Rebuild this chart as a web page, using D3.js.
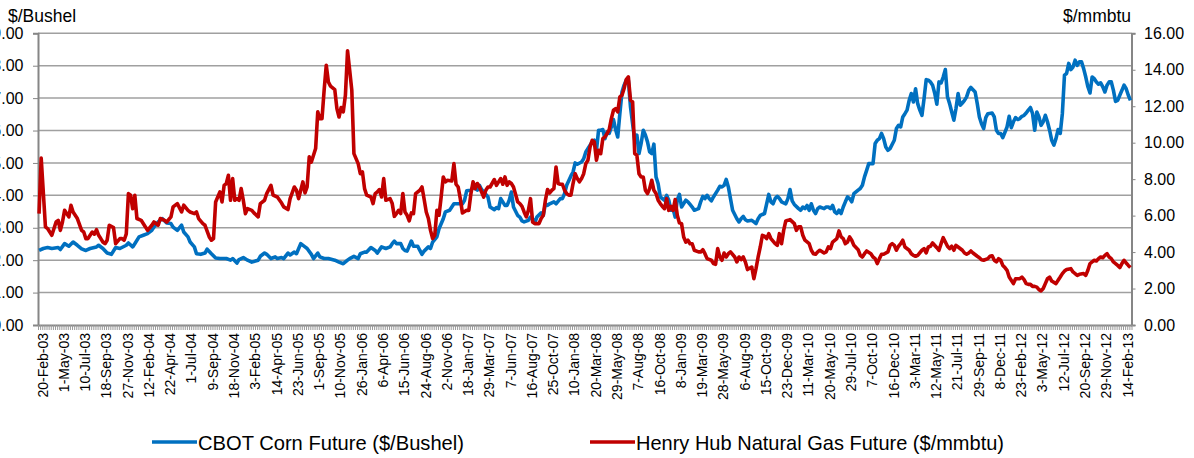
<!DOCTYPE html>
<html><head><meta charset="utf-8">
<script src="https://cdn.jsdelivr.net/npm/d3@7"></script>
<style>
body{margin:0;background:#fff;}
svg{display:block;font-family:"Liberation Sans",Arial,sans-serif;}
</style></head><body>
<svg id="chart" width="1194" height="458"></svg>
<script>
// Weekly categories (index 0 = 20-Feb-03), a label every 10th week
const categoryCount = 514;
const tickLabels = ["20-Feb-03","1-May-03","10-Jul-03","18-Sep-03","27-Nov-03","12-Feb-04","22-Apr-04","1-Jul-04","9-Sep-04","18-Nov-04","3-Feb-05","14-Apr-05","23-Jun-05","1-Sep-05","10-Nov-05","26-Jan-06","6-Apr-06","15-Jun-06","24-Aug-06","2-Nov-06","18-Jan-07","29-Mar-07","7-Jun-07","16-Aug-07","25-Oct-07","10-Jan-08","20-Mar-08","29-May-08","7-Aug-08","16-Oct-08","8-Jan-09","19-Mar-09","28-May-09","6-Aug-09","15-Oct-09","23-Dec-09","11-Mar-10","20-May-10","29-Jul-10","7-Oct-10","16-Dec-10","3-Mar-11","12-May-11","21-Jul-11","29-Sep-11","8-Dec-11","23-Feb-12","3-May-12","12-Jul-12","20-Sep-12","29-Nov-12","14-Feb-13"];
const leftTicks = [0,1,2,3,4,5,6,7,8,9];
const rightTicks = [0,2,4,6,8,10,12,14,16];
const seriesNames = ["CBOT Corn Future ($/Bushel)", "Henry Hub Natural Gas Future ($/mmbtu)"];

// [week index, $/bushel]
const cornData = [[0,2.30],[2,2.36],[4,2.39],[6,2.36],[9,2.39],[10,2.33],[12,2.51],[14,2.43],[16,2.56],[18,2.46],[20,2.35],[22,2.30],[24,2.36],[27,2.41],[28,2.46],[30,2.36],[32,2.22],[34,2.18],[36,2.39],[38,2.36],[41,2.46],[42,2.53],[44,2.41],[45,2.51],[47,2.72],[49,2.77],[51,2.82],[53,2.92],[54,3.02],[56,3.18],[58,3.28],[60,3.15],[62,3.13],[63,3.02],[65,2.92],[67,3.08],[68,2.87],[70,2.72],[71,2.56],[73,2.41],[74,2.20],[76,2.18],[78,2.22],[79,2.34],[81,2.20],[83,2.07],[85,2.05],
[86,2.05],[88,2.05],[90,2.00],[91,2.05],[93,1.91],[94,2.02],[96,2.08],[98,2.00],[100,1.94],[103,2.00],[104,2.12],[106,2.22],[107,2.18],[109,2.05],[111,2.10],[112,2.05],[114,2.08],[115,2.05],[117,2.22],[118,2.16],[120,2.25],[121,2.20],[123,2.51],[125,2.41],[126,2.36],[128,2.18],[129,2.05],[131,2.22],[132,2.10],[134,2.05],[136,2.05],[139,2.00],[141,1.94],[143,1.89],[145,2.00],[146,2.05],[148,2.12],[150,2.05],[151,2.20],[153,2.25],[154,2.25],[156,2.39],[158,2.30],[159,2.22],[161,2.41],[163,2.36],[165,2.41],[166,2.51],
[167,2.59],[168,2.51],[170,2.51],[171,2.36],[172,2.30],[173,2.28],[175,2.59],[176,2.43],[178,2.43],[179,2.30],[180,2.18],[181,2.28],[183,2.41],[184,2.36],[185,2.56],[187,2.72],[188,2.97],[190,3.28],[191,3.49],[193,3.54],[194,3.64],[195,3.74],[197,3.74],[199,3.74],[200,3.85],[201,4.14],[203,4.16],[204,4.26],[206,4.16],[207,4.31],[208,4.18],[210,4.03],[211,3.95],[212,3.64],[214,3.56],[215,3.62],[216,3.59],[217,3.90],[219,3.69],[220,3.69],[221,3.85],[222,4.10],[223,3.64],[225,3.38],[226,3.33],[227,3.21],[228,3.18],[230,3.23],[231,3.33],[232,3.28],[233,3.15],[234,3.33],[236,3.46],[237,3.38],[238,3.74],[239,3.69],[240,3.74],[242,3.80],[243,3.74],[245,3.90],[246,3.90],[247,4.05],[248,4.31],[250,4.60],
[251,4.72],[252,5.00],[253,4.96],[255,5.03],[256,5.13],[257,5.34],[259,5.55],[260,5.65],[261,5.70],[262,5.39],[263,6.01],[264,6.01],[265,6.03],[266,5.75],[267,5.96],[268,5.91],[269,6.11],[270,6.34],[271,6.03],[272,5.80],[273,6.52],[274,7.19],[275,7.40],[276,7.55],[277,7.55],[278,6.73],[279,6.21],[280,5.70],[281,5.86],[282,5.29],[283,5.60],[284,6.01],[285,5.86],[286,5.65],[287,5.34],[288,5.29],[289,5.58],[290,4.57],[291,4.36],[292,3.95],[294,3.85],[295,4.00],[296,3.85],[297,3.54],[298,3.59],[299,3.33],[300,3.87],[301,4.03],[302,3.64],[304,3.85],[305,3.80],[306,3.72],[307,3.64],[308,3.54],[310,3.59],[311,3.80],[312,3.97],[313,3.90],[314,4.00],[315,3.90],[316,3.83],[317,3.95],[319,4.16],[320,4.28],[321,4.26],[322,4.31],[323,4.49],[324,4.26],[325,3.90],[326,3.54],[328,3.28],[329,3.18],[330,3.28],[331,3.35],[332,3.25],[333,3.21],[335,3.23],[336,3.18],[337,3.13],[338,3.28],[339,3.38],
[341,3.44],[342,3.74],[343,4.03],[344,3.80],[345,3.74],[346,3.90],[347,3.97],[348,3.90],[349,3.80],[351,3.74],[352,3.90],[353,4.18],[354,3.83],[355,3.72],[357,3.59],[358,3.54],[359,3.64],[360,3.59],[361,3.69],[362,3.54],[363,3.74],[364,3.54],[365,3.44],[366,3.59],[367,3.64],[369,3.59],[370,3.64],[371,3.64],[372,3.59],[373,3.69],[374,3.49],[375,3.44],[376,3.54],[377,3.44],[378,3.64],[379,3.80],[380,3.95],[381,3.90],[382,3.80],[383,4.05],[385,4.16],[386,4.21],[387,4.31],[388,4.57],[389,4.77],[390,4.98],[391,4.98],[392,4.98],[393,5.60],[394,5.70],[395,5.75],[396,5.91],[397,5.75],[398,5.49],[399,5.39],[400,5.44],[402,5.70],[403,6.06],[404,6.16],[405,6.11],[406,6.42],[407,6.52],[408,6.63],[409,6.93],[410,7.14],[411,6.88],[412,7.29],[413,6.83],[414,6.63],[415,6.47],[416,6.99],[417,7.57],[418,7.55],
[419,7.50],[420,7.40],[421,7.15],[422,6.81],[423,7.50],[424,7.47],[425,7.65],[426,7.88],[427,7.04],[428,6.83],[429,6.57],[430,6.32],[431,6.68],[432,7.14],[433,6.78],[434,6.85],[435,6.93],[436,7.04],[437,7.24],[438,7.33],[440,7.19],[441,6.83],[442,6.42],[443,6.21],[444,6.06],[445,6.40],[446,6.52],[448,6.54],[449,6.42],[450,6.01],[451,5.91],[452,5.91],[453,5.78],[455,6.11],[456,6.44],[457,6.09],[458,6.27],[459,6.40],[460,6.34],[461,6.37],[462,6.44],[463,6.47],[464,6.54],[465,6.63],[466,6.71],[467,6.52],[468,6.01],[469,6.57],[470,6.42],[471,6.16],[472,6.27],[473,6.47],[474,6.27],[475,6.01],[476,5.70],[477,5.55],[478,5.75],[479,6.03],[480,5.91],[481,6.52],[482,7.71],[483,7.76],[484,8.07],[485,7.88],[486,7.96],[487,8.17],[488,8.01],[489,8.12],[490,8.12],[491,7.91],[492,7.65],[493,7.35],[494,7.16],[495,7.65],[496,7.60],[497,7.50],[498,7.43],[499,7.47],[500,7.35],[501,7.19],[502,7.40],[503,7.50],[504,7.50],[505,7.24],[506,6.90],[507,6.93],[508,7.09],[509,7.24],[510,7.40],[511,7.29],[512,7.09],[513,6.93]];

// [week index, $/mmbtu]
const gasData = [[0,6.11],[1,9.16],[3,5.38],[4,5.29],[6,4.92],[8,5.65],[9,5.74],[10,5.19],[11,5.65],[12,6.29],[14,5.93],[15,6.57],[16,6.20],[18,5.84],[20,5.19],[21,5.10],[22,4.74],[23,4.74],[25,5.10],[26,4.98],[27,5.23],[28,4.92],[29,4.74],[30,4.55],[31,4.46],[32,4.65],[33,5.47],[35,5.34],[36,4.46],[38,4.74],[39,4.74],[40,4.65],[41,5.00],[42,7.21],[43,7.12],[44,6.38],[45,7.12],[46,5.84],[48,5.74],[50,5.38],[51,5.19],[53,5.47],[54,5.65],[56,5.47],[57,5.84],[59,5.74],[60,5.65],[62,5.93],[63,6.48],[65,6.66],[67,6.20],[68,6.57],[70,6.29],[71,6.20],[73,6.11],[74,6.20],[75,5.84],[77,5.56],[78,5.47],[80,4.83],[81,4.65],[82,4.74],[83,6.75],[85,7.30],
[86,6.75],[87,7.66],[88,7.76],[89,8.21],[90,6.84],[91,8.03],[92,6.84],[93,6.93],[94,6.84],[95,7.48],[96,6.84],[97,6.11],[98,6.38],[100,6.29],[101,6.15],[103,5.93],[104,6.66],[106,6.84],[107,7.21],[109,7.66],[110,7.12],[112,7.02],[114,6.69],[115,6.48],[117,6.33],[118,6.93],[120,7.57],[121,7.39],[122,6.93],[123,7.39],[124,7.85],[125,7.24],[126,7.57],[127,9.22],[128,8.94],[130,9.68],[131,11.69],[132,11.32],[133,11.32],[134,12.88],[135,14.25],[136,13.33],[137,13.10],[139,12.91],[140,11.87],[141,11.41],[142,11.93],[143,11.69],[144,12.60],[145,15.04],[146,13.97],[147,12.88],[148,9.40],[150,8.85],[151,8.30],[152,8.40],[153,7.48],[154,7.12],[156,7.02],[157,6.66],[158,7.21],[159,7.30],[160,7.43],[161,7.02],[162,8.03],[163,6.84],[165,6.93],[166,6.66],[167,5.96],
[168,6.11],[169,6.29],[170,6.11],[171,7.21],[172,6.20],[173,6.02],[174,5.71],[175,6.15],[176,6.11],[177,7.21],[179,7.39],[180,7.57],[181,6.90],[182,6.20],[183,5.84],[184,5.19],[185,4.74],[186,4.92],[187,6.29],[188,6.02],[189,7.02],[190,8.12],[191,7.85],[192,7.94],[194,7.90],[195,8.85],[196,7.72],[197,7.57],[198,6.93],[199,6.15],[201,6.29],[202,6.29],[203,7.21],[204,7.85],[205,7.48],[206,7.76],[207,7.57],[208,7.30],[209,7.02],[210,7.39],[211,7.57],[212,7.57],[214,7.98],[215,7.66],[216,7.85],[217,8.03],[218,7.72],[219,8.12],[220,7.66],[221,7.85],[222,7.76],[223,7.57],[225,6.75],[226,6.66],[227,6.51],[228,6.20],[229,5.93],[230,6.29],[231,6.93],[232,5.65],[233,5.56],[235,5.56],[236,5.84],[237,6.02],[238,6.84],[239,7.43],[240,7.24],[241,7.39],[242,7.48],[243,8.67],[244,7.76],[245,7.72],[246,7.72],[247,7.39],[248,7.21],[249,7.12],
[250,7.12],[251,7.76],[252,8.30],[253,8.03],[254,7.85],[255,8.03],[256,8.30],[257,8.85],[258,9.04],[259,9.77],[260,10.13],[261,10.04],[262,9.04],[263,9.58],[264,9.40],[265,10.22],[266,10.32],[267,10.50],[268,10.72],[269,11.32],[270,11.78],[271,11.87],[272,11.69],[273,12.51],[274,12.60],[275,12.97],[276,13.46],[277,13.61],[278,12.33],[279,12.24],[280,9.40],[281,9.31],[282,8.30],[283,8.12],[284,8.12],[285,7.39],[286,7.21],[287,7.48],[288,7.94],[289,7.39],[290,7.21],[291,6.84],[292,6.66],[293,6.50],[294,6.38],[295,6.93],[296,6.29],[297,6.51],[298,6.29],[299,6.88],[300,6.02],[301,5.60],[302,5.56],[303,4.83],[304,4.55],[305,4.65],[306,4.46],[307,4.46],[308,4.10],[310,4.01],[311,4.01],[312,4.13],[313,3.91],[314,3.64],[316,3.55],[317,3.37],[318,3.33],[319,4.19],[320,3.73],[321,3.55],[322,3.95],[323,3.73],[324,3.91],[325,4.01],[327,3.73],[328,3.46],[329,3.73],[330,3.59],[331,3.73],[332,3.46],[333,3.04],[335,3.18],[336,2.54],[337,3.09],
[338,3.73],[339,4.28],[340,4.92],[341,4.87],[342,4.74],[343,5.01],[344,4.74],[346,4.46],[347,4.37],[348,5.01],[349,4.46],[350,5.19],[351,5.71],[352,5.74],[353,5.78],[355,5.56],[356,5.19],[357,5.38],[358,5.38],[359,4.92],[360,4.65],[362,4.46],[363,4.10],[364,3.91],[365,3.88],[366,4.01],[367,4.10],[369,3.95],[370,4.01],[371,4.28],[372,4.19],[373,4.55],[375,4.74],[376,5.16],[377,4.83],[378,4.74],[379,4.46],[380,4.55],[381,4.83],[382,4.65],[383,4.37],[385,4.13],[386,3.82],[387,3.73],[388,3.91],[389,4.06],[391,3.91],[392,3.73],[393,3.64],[394,3.37],[395,3.64],[396,3.88],[397,3.88],[399,4.01],[400,4.37],[401,4.46],[402,4.37],[403,4.10],[404,4.32],[405,4.46],[406,4.65],[407,4.28],[409,4.10],[410,3.91],[411,3.82],[412,3.77],[413,3.82],[415,4.10],[416,4.19],[417,3.95],[418,4.28],[419,4.32],
[420,4.50],[422,4.24],[423,4.10],[424,4.46],[425,4.79],[426,4.55],[427,4.32],[428,4.19],[429,4.32],[430,4.10],[431,4.37],[432,4.28],[434,4.10],[435,3.95],[436,3.88],[437,3.95],[438,4.06],[439,3.95],[441,3.77],[442,3.69],[443,3.58],[444,3.55],[446,3.64],[447,3.77],[448,3.80],[449,3.55],[450,3.46],[451,3.64],[452,3.55],[453,3.27],[454,3.15],[455,3.00],[456,2.63],[458,2.27],[459,2.54],[460,2.54],[461,2.54],[462,2.63],[463,2.49],[464,2.27],[465,2.23],[466,2.23],[467,2.12],[468,2.12],[469,2.08],[470,1.94],[471,1.87],[472,2.00],[473,2.27],[474,2.54],[475,2.63],[476,2.41],[478,2.27],[479,2.45],[480,2.63],[481,2.82],[482,2.96],[483,3.04],[485,3.09],[486,2.91],[487,2.82],[488,2.72],[489,2.78],[491,2.82],[492,2.72],[493,3.00],[494,3.37],[495,3.46],[496,3.55],[497,3.51],[498,3.64],[499,3.73],[500,3.69],[501,3.82],[502,3.91],[503,3.73],[504,3.64],[505,3.46],[506,3.37],[507,3.27],[508,3.15],[509,3.37],[510,3.55],[511,3.40],[512,3.27],[513,3.15]];

const colors = {corn:"#0070C0", gas:"#C00000", grid:"#a0a0a0", axis:"#868686", text:"#000"};

const svg = d3.select("#chart");
const plot = {left:38, right:1131.5, top:33.3, bottom:325};

const x = d3.scaleLinear().domain([-0.5, categoryCount - 0.5]).range([plot.left, plot.right]);
const yL = d3.scaleLinear().domain([0, 9]).range([plot.bottom, plot.top]);
const yR = d3.scaleLinear().domain([0, 16]).range([plot.bottom, plot.top]);

// gridlines
svg.append("g").selectAll("line").data(leftTicks.slice(1)).join("line")
  .attr("x1", plot.left).attr("x2", plot.right)
  .attr("y1", d => yL(d)).attr("y2", d => yL(d))
  .attr("stroke", colors.grid).attr("stroke-width", 1.5);

// left axis
const gL = svg.append("g").attr("transform", `translate(${plot.left},0)`)
  .call(d3.axisLeft(yL).tickValues(leftTicks).tickFormat(d3.format(".2f")).tickSize(5).tickPadding(9.5));
// right axis
const gR = svg.append("g").attr("transform", `translate(${plot.right},0)`)
  .call(d3.axisRight(yR).tickValues(rightTicks).tickFormat(d3.format(".2f")).tickSize(4).tickPadding(8.5));
// bottom axis: a tick mark between every weekly category
const boundaries = d3.range(categoryCount + 1).map(i => i - 0.5);
const gB = svg.append("g").attr("transform", `translate(0,${plot.bottom})`)
  .call(d3.axisBottom(x).tickValues(boundaries).tickFormat("").tickSize(5).tickSizeOuter(0));

[gL, gR, gB].forEach(g => {
  g.select(".domain").attr("stroke", colors.axis).attr("stroke-width", 2);
  g.selectAll(".tick line").attr("stroke", colors.axis);
  g.selectAll("text").attr("fill", colors.text).style("font-size", "16px")
    .style("font-family", '"Liberation Sans",Arial,sans-serif');
});
gB.selectAll(".tick line").attr("stroke", "#9a9a9a").attr("stroke-width", 1);

// category labels
svg.append("g").selectAll("text").data(tickLabels).join("text")
  .attr("transform", (d, k) => `translate(${x(k * 10) + 3.5},${plot.bottom + 8}) rotate(-90)`)
  .attr("text-anchor", "end")
  .attr("dominant-baseline", "central")
  .style("font-size", "14px")
  .attr("fill", colors.text)
  .text(d => d);

// axis titles
svg.append("text").attr("x", 8).attr("y", 22).style("font-size", "17.5px").attr("fill", colors.text).text("$/Bushel");
svg.append("text").attr("x", 1063).attr("y", 22).style("font-size", "17.5px").attr("fill", colors.text).text("$/mmbtu");

// lines
const lineCorn = d3.line().x(d => x(d[0])).y(d => yL(d[1]));
const lineGas = d3.line().x(d => x(d[0])).y(d => yR(d[1]));
svg.append("path").datum(cornData).attr("d", lineCorn)
  .attr("fill", "none").attr("stroke", colors.corn).attr("stroke-width", 3.6).attr("stroke-linejoin", "round");
svg.append("path").datum(gasData).attr("d", lineGas)
  .attr("fill", "none").attr("stroke", colors.gas).attr("stroke-width", 3.6).attr("stroke-linejoin", "round");

// legend
const legend = [
  {name: seriesNames[0], color: colors.corn, x0: 152, len: 266},
  {name: seriesNames[1], color: colors.gas, x0: 590, len: 368}
];
const lg = svg.append("g");
legend.forEach(l => {
  lg.append("line").attr("x1", l.x0).attr("x2", l.x0 + 45).attr("y1", 442).attr("y2", 442)
    .attr("stroke", l.color).attr("stroke-width", 3.5);
  lg.append("text").attr("x", l.x0 + 46).attr("y", 449.5)
    .style("font-size", "21px").attr("fill", colors.text)
    .attr("textLength", l.len).attr("lengthAdjust", "spacingAndGlyphs")
    .text(l.name);
});
</script>
</body></html>
